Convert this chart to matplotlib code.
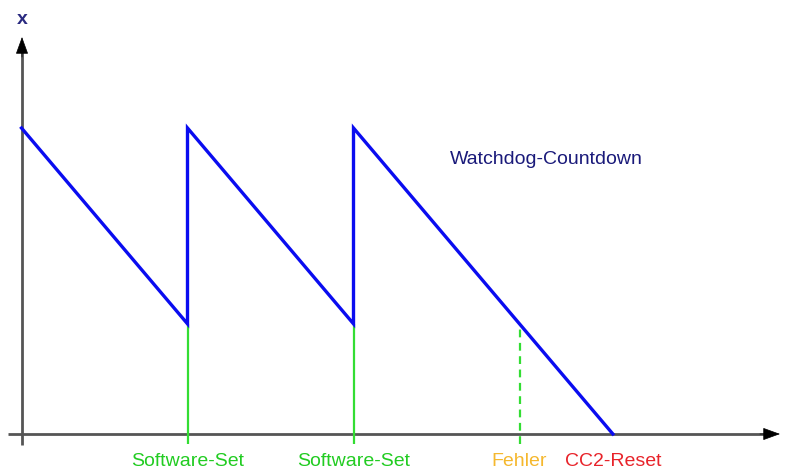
import matplotlib
matplotlib.use("Agg")
import matplotlib.pyplot as plt

# Data (time in watchdog periods, value normalised to reload value)
t = [0, 1, 1, 2, 2, 3.5625]
x = [1.0, 0.36, 1.0, 0.36, 1.0, 0.0]
set_times = [1, 2]
set_labels = ["Software-Set", "Software-Set"]
fehler_time = 3.0
fehler_value = 0.36
reset_time = 3.5625
curve_label = "Watchdog-Countdown"
y_label = "x"

W, H = 788, 474
fig = plt.figure(figsize=(W / 100, H / 100), dpi=100)
ax = fig.add_axes([0, 0, 1, 1])
ax.set_axis_off()

# pixel mapping: t=0 -> px 21.5, 166 px per unit; x=0 -> px 434, 1 -> px 128
x0, sx = 21.5, 166.0
y0, sy = 434.0, 306.0
ax.set_xlim(-x0 / sx, (W - x0) / sx)
ax.set_ylim(-(H - y0) / sy, y0 / sy)

def px(u):
    return (u - x0) / sx

def py(v):
    return (y0 - v) / sy

axis_col = "#555555"
yax = 0.003
# shafts
ax.plot([px(8), px(768)], [0, 0], color=axis_col, lw=2, solid_capstyle="butt", zorder=1)
ax.plot([yax, yax], [py(445), py(50)], color=axis_col, lw=2, solid_capstyle="butt", zorder=1)
# arrow heads (black)
head = "-|>,head_length=1.1,head_width=0.4"
ax.annotate("", xy=(px(780), 0), xytext=(px(760), 0),
            arrowprops=dict(arrowstyle=head, color="black", lw=0.5, shrinkA=0, shrinkB=0))
ax.annotate("", xy=(yax, py(37)), xytext=(yax, py(57)),
            arrowprops=dict(arrowstyle=head, color="black", lw=0.5, shrinkA=0, shrinkB=0))

green = "#33dd33"
below = py(444)
for ts in set_times:
    ax.plot([ts, ts], [below, 0.36], color=green, lw=1.6, solid_capstyle="butt", zorder=2)
ax.plot([fehler_time, fehler_time], [below, fehler_value], color=green, lw=1.6,
        linestyle=(0, (3.5, 2.5)), zorder=2)

ax.plot(t, x, color="#0a0cf0", lw=2.4, solid_joinstyle="miter", zorder=3)

lab_y = py(462)
fs = 14
for ts, lab in zip(set_times, set_labels):
    ax.text(ts, lab_y, lab, color="#22cc22", fontsize=fs, ha="center", va="center",
            family="Liberation Sans")
ax.text(fehler_time, lab_y, "Fehler", color="#f5b82e", fontsize=fs, ha="center", va="center",
        family="Liberation Sans")
ax.text(reset_time, lab_y, "CC2-Reset", color="#e8232a", fontsize=fs, ha="center", va="center",
        family="Liberation Sans")
ax.text(px(546), py(160), curve_label, color="#1a1a7a", fontsize=fs,
        ha="center", va="center", family="Liberation Sans")
ax.text(yax, py(19), y_label, color="#2a2a80", fontsize=fs, ha="center", va="center",
        family="Liberation Sans", fontweight="bold")

fig.savefig("out.png", dpi=100, facecolor="white")
